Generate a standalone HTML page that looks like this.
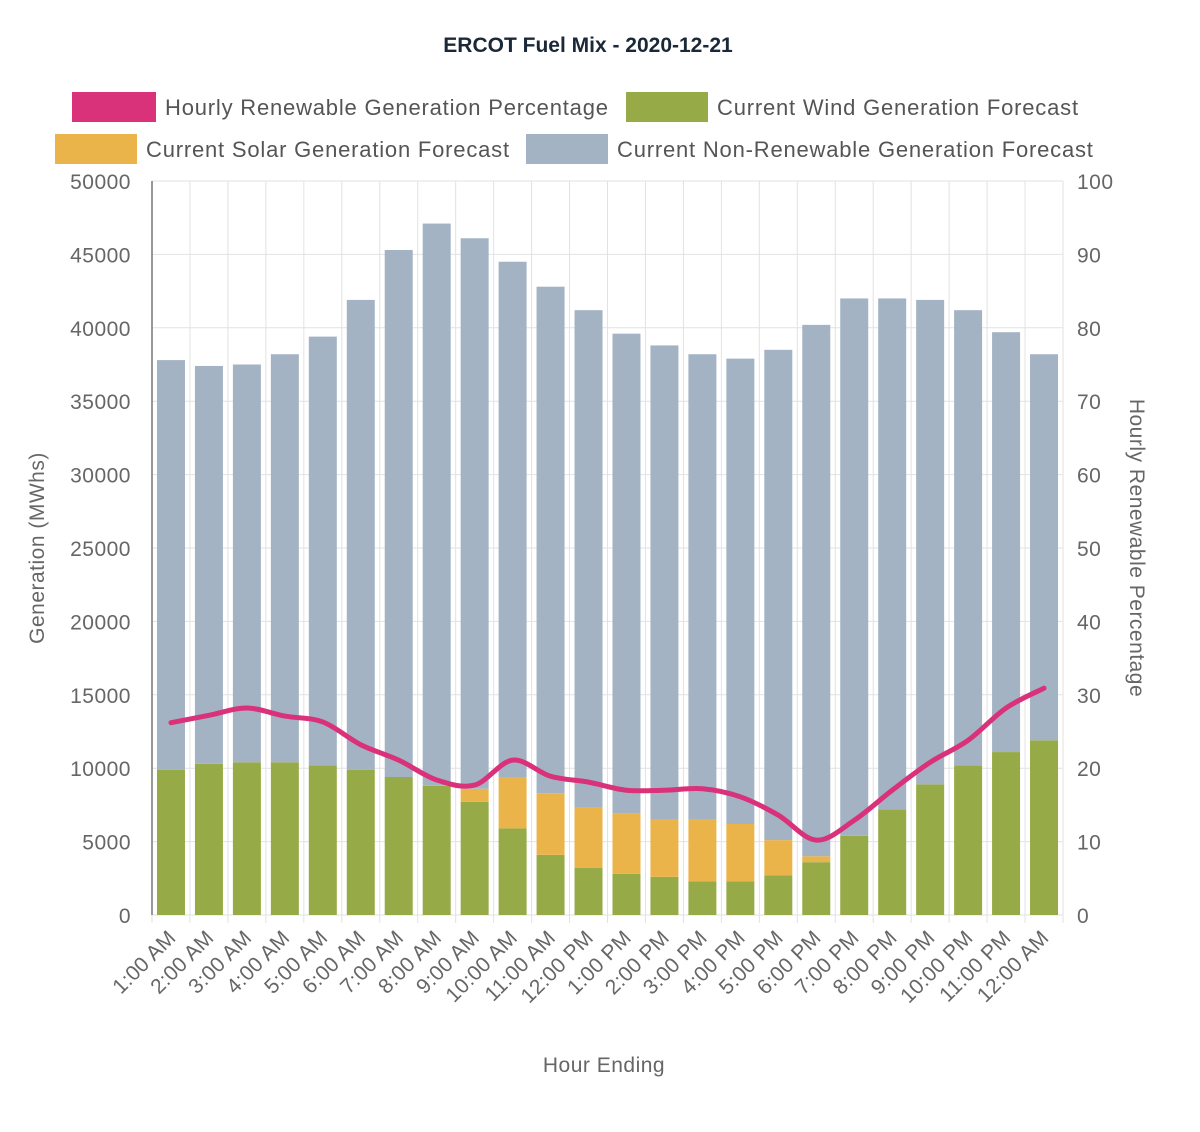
<!DOCTYPE html>
<html><head><meta charset="utf-8">
<style>
body{margin:0;background:#fff;font-family:"Liberation Sans",sans-serif;}
svg text{font-family:"Liberation Sans",sans-serif;}
</style></head>
<body>
<svg id="chart" width="1200" height="1127" viewBox="0 0 1200 1127" xmlns="http://www.w3.org/2000/svg">
<text x="588" y="52" text-anchor="middle" font-size="21" font-weight="bold" fill="#1b2838">ERCOT Fuel Mix - 2020-12-21</text>
<g font-size="22" fill="#555" letter-spacing="0.8">
 <g><rect x="72" y="92" width="84" height="30" fill="#d9317a"/><text x="165" y="115">Hourly Renewable Generation Percentage</text></g>
 <g><rect x="626" y="92" width="82" height="30" fill="#96ab47"/><text x="717" y="115">Current Wind Generation Forecast</text></g>
 <g><rect x="55" y="134" width="82" height="30" fill="#ebb44a"/><text x="146" y="157">Current Solar Generation Forecast</text></g>
 <g><rect x="526" y="134" width="82" height="30" fill="#a3b3c4"/><text x="617" y="157">Current Non-Renewable Generation Forecast</text></g>
</g>
<g id="grid"></g>
<g id="bars"></g>
<g id="axes"></g>
<text transform="translate(44,548) rotate(-90)" text-anchor="middle" font-size="21" fill="#666" letter-spacing="0.5">Generation (MWhs)</text>
<text transform="translate(1130,548) rotate(90)" text-anchor="middle" font-size="21" fill="#666" letter-spacing="0.5">Hourly Renewable Percentage</text>
<text x="604" y="1072" text-anchor="middle" font-size="21" fill="#666" letter-spacing="0.5">Hour Ending</text>
</svg>
<script>
const categories=["1:00 AM","2:00 AM","3:00 AM","4:00 AM","5:00 AM","6:00 AM","7:00 AM","8:00 AM","9:00 AM","10:00 AM","11:00 AM","12:00 PM","1:00 PM","2:00 PM","3:00 PM","4:00 PM","5:00 PM","6:00 PM","7:00 PM","8:00 PM","9:00 PM","10:00 PM","11:00 PM","12:00 AM"];
const totals=[37800,37400,37500,38200,39400,41900,45300,47100,46100,44500,42800,41200,39600,38800,38200,37900,38500,40200,42000,42000,41900,41200,39700,38200];
const wind=[9900,10300,10400,10400,10200,9900,9400,8800,7700,5900,4100,3200,2800,2600,2300,2300,2700,3600,5400,7200,8900,10200,11100,11900];
const solar=[0,0,0,0,0,0,0,0,900,3500,4200,4100,4100,3900,4200,3900,2400,400,0,0,0,0,0,0];
const pct=[26.2,27.2,28.2,27.1,26.3,23.2,21.1,18.4,17.7,21.1,18.9,18.1,17.0,17.0,17.2,16.1,13.6,10.2,12.9,17.0,20.8,23.8,28.2,30.9];
const leftTicks=[0,5000,10000,15000,20000,25000,30000,35000,40000,45000,50000];
const rightTicks=[0,10,20,30,40,50,60,70,80,90,100];

const NS="http://www.w3.org/2000/svg";
const X0=152,X1=1063,Y0=915,Y1=181;
const band=(X1-X0)/categories.length;
const yL=v=>Y0-(v/50000)*(Y0-Y1);
const yR=v=>Y0-(v/100)*(Y0-Y1);
const xC=i=>X0+band*(i+0.5);
function mk(tag,attrs,parent){const e=document.createElementNS(NS,tag);for(const k in attrs)e.setAttribute(k,attrs[k]);parent.appendChild(e);return e;}
const grid=document.getElementById('grid'),bars=document.getElementById('bars'),axes=document.getElementById('axes');
leftTicks.forEach((t,i)=>{
  const l=mk('line',{x1:X0,x2:X1,y1:yL(t),y2:yL(t),stroke:'#e2e2e2','stroke-width':1},grid);
  
  
  const tx=mk('text',{x:131,y:yL(t)+8,'text-anchor':'end','font-size':21,fill:'#666','letter-spacing':0.5},axes);tx.textContent=t;
  
  
});
rightTicks.forEach(t=>{
  const tx=mk('text',{x:1077,y:yR(t)+8,'font-size':21,fill:'#666','letter-spacing':0.5},axes);tx.textContent=t;
  
  
});
for(let i=0;i<=categories.length;i++){
  const x=X0+band*i;
  const l=mk('line',{x1:x,x2:x,y1:Y1,y2:Y0+8,stroke:'#e2e2e2','stroke-width':1},grid);
  
  
}
const bw=28;
categories.forEach((c,i)=>{
  const x=xC(i)-bw/2;
  const w=wind[i],s=solar[i],t=totals[i];
  const r1=mk('rect',{x:x,y:yL(w),width:bw,height:Y0-yL(w),fill:'#96ab47'},bars);
  
  
  const r2=mk('rect',{x:x,y:yL(w+s),width:bw,height:yL(w)-yL(w+s),fill:'#ebb44a'},bars);
  
  
  const r3=mk('rect',{x:x,y:yL(t),width:bw,height:yL(w+s)-yL(t),fill:'#a3b3c4'},bars);
  
  
  const tx=mk('text',{transform:`translate(${xC(i)+6},${Y0+24}) rotate(-45)`,'text-anchor':'end','font-size':21,fill:'#666','letter-spacing':0.3},axes);
  tx.textContent=c;
  
  
});
const ax=mk('line',{x1:X0,x2:X0,y1:Y1,y2:Y0,stroke:'#777','stroke-width':1.5},axes);


const pts=pct.map((v,i)=>[xC(i),yR(v)]);
let d=`M${pts[0][0]},${pts[0][1]}`;
for(let i=0;i<pts.length-1;i++){
  const p0=pts[Math.max(0,i-1)],p1=pts[i],p2=pts[i+1],p3=pts[Math.min(pts.length-1,i+2)];
  const c1=[p1[0]+(p2[0]-p0[0])/6,p1[1]+(p2[1]-p0[1])/6];
  const c2=[p2[0]-(p3[0]-p1[0])/6,p2[1]-(p3[1]-p1[1])/6];
  d+=` C${c1[0]},${c1[1]} ${c2[0]},${c2[1]} ${p2[0]},${p2[1]}`;
}
const line=mk('path',{d:d,fill:'none',stroke:'#d9317a','stroke-width':5,'stroke-linecap':'round','stroke-linejoin':'round'},document.getElementById('chart'));


</script>
</body></html>
